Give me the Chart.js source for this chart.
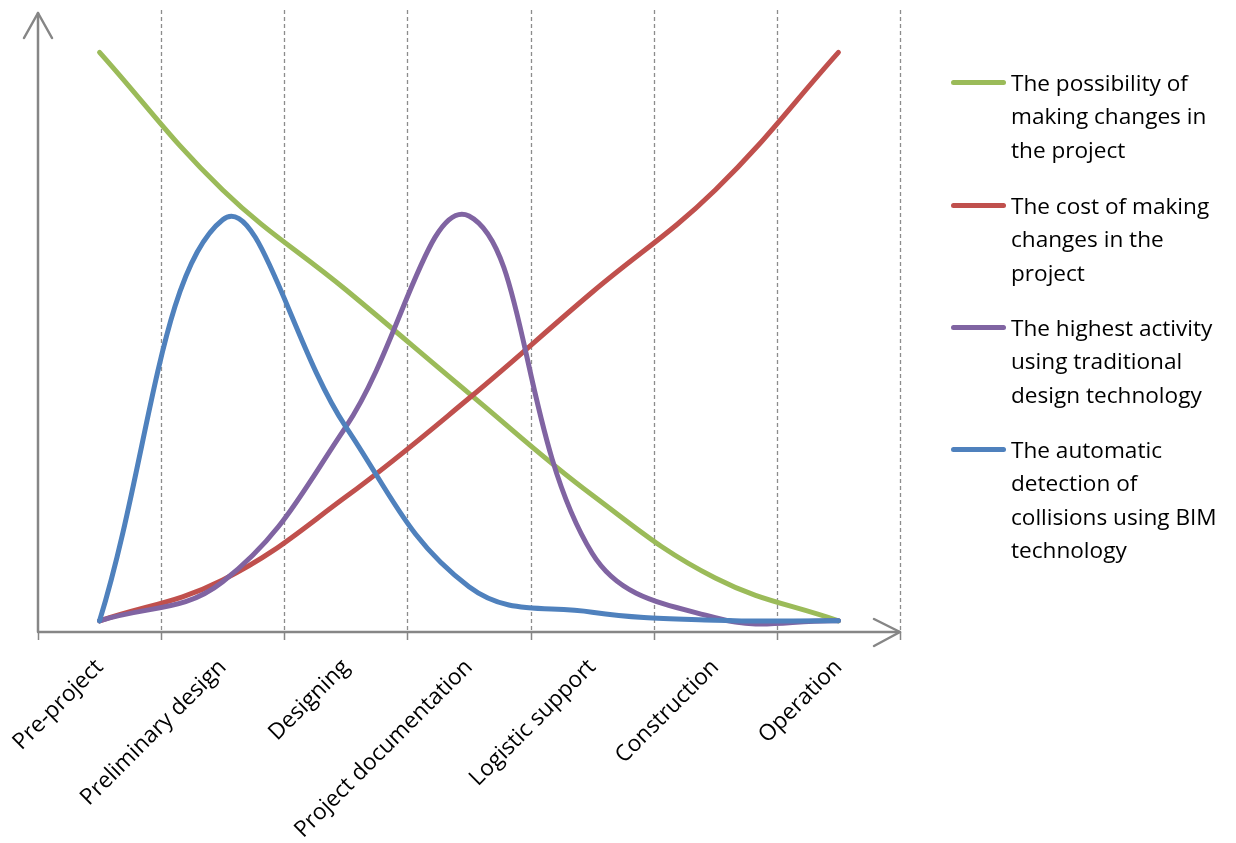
<!DOCTYPE html>
<html>
<head>
<meta charset="utf-8">
<script src="https://cdn.jsdelivr.net/npm/chart.js@4/dist/chart.umd.min.js"></script>
<style>
  html, body { margin: 0; padding: 0; background: #fff; }
  #wrap { position: relative; width: 1236px; height: 843px; }
  #chart { position: absolute; left: 0; top: 0; }
  .legend-item { position: absolute; left: 951px; display: flex; align-items: flex-start; }
  .legend-swatch { width: 55px; height: 5px; border-radius: 3px; margin-top: 14.2px; flex: none; }
  .legend-text { margin-left: 5px; font-family: "Open Sans", sans-serif; font-size: 22.6px; line-height: 33.3px; color: #000; white-space: nowrap; }
</style>
</head>
<body>
<div id="wrap">
  <canvas id="chart" width="1236" height="843"></canvas>
  <div id="legend"></div>
</div>
<script>
const categories = ['Pre-project', 'Preliminary design', 'Designing', 'Project documentation', 'Logistic support', 'Construction', 'Operation'];
const possibilityValues = [93.5, 71.3, 55.2, 38.5, 22.1, 8.7, 1.8];
const costValues = [1.8, 8.4, 21.8, 37.7, 54.8, 71.3, 93.5];
const traditionalValues = [1.8, 8.1, 33.1, 67.1, 12.7, 2.3, 1.8];
const bimValues = [1.8, 66.5, 33.1, 7.3, 3.2, 1.9, 1.8];
const seriesNames = [
  ['The possibility of', 'making changes in', 'the project'],
  ['The cost of making', 'changes in the', 'project'],
  ['The highest activity', 'using traditional', 'design technology'],
  ['The automatic', 'detection of', 'collisions using BIM', 'technology']
];
const seriesColors = ['#9BBB59', '#C0504D', '#8064A2', '#4F81BD'];
const legendTops = [66, 189, 311, 433];

const FONT = '"Open Sans", sans-serif';
const AXIS_COLOR = '#868686';

const axesPlugin = {
  id: 'axesPlugin',
  beforeDatasetsDraw(chart) {
    const ctx = chart.ctx;
    const area = chart.chartArea;
    const xs = chart.scales.x;
    const n = categories.length;
    const bottom = area.bottom;
    const bounds = [];
    for (let i = 0; i < n; i++) {
      bounds.push(i + 1 < n ? (xs.getPixelForValue(i) + xs.getPixelForValue(i + 1)) / 2 : area.right);
    }
    ctx.save();
    ctx.strokeStyle = '#8c8c8c';
    ctx.lineWidth = 1.3;
    ctx.setLineDash([4, 3]);
    bounds.forEach(b => {
      const gx = Math.round(b) + 0.5;
      ctx.beginPath();
      ctx.moveTo(gx, 10);
      ctx.lineTo(gx, bottom);
      ctx.stroke();
    });
    ctx.setLineDash([]);
    ctx.strokeStyle = AXIS_COLOR;
    ctx.lineWidth = 1.5;
    [area.left].concat(bounds).forEach(tx => {
      ctx.beginPath();
      ctx.moveTo(Math.round(tx) + 0.5, bottom);
      ctx.lineTo(Math.round(tx) + 0.5, bottom + 8);
      ctx.stroke();
    });
    ctx.lineWidth = 2.5;
    ctx.lineCap = 'round';
    ctx.lineJoin = 'round';
    ctx.beginPath();
    ctx.moveTo(area.left, bottom);
    ctx.lineTo(area.left, 13);
    ctx.moveTo(area.left, bottom);
    ctx.lineTo(area.right, bottom);
    ctx.stroke();
    ctx.beginPath();
    ctx.moveTo(area.left - 14, 38);
    ctx.lineTo(area.left, 13);
    ctx.lineTo(area.left + 14, 38);
    ctx.moveTo(area.right - 26, bottom - 13);
    ctx.lineTo(area.right, bottom);
    ctx.lineTo(area.right - 26, bottom + 14);
    ctx.stroke();
    ctx.restore();
  }
};

const valueSets = [possibilityValues, costValues, traditionalValues, bimValues];

new Chart(document.getElementById('chart'), {
  type: 'line',
  data: {
    labels: categories,
    datasets: valueSets.map((vals, i) => ({
      label: seriesNames[i].join(' '),
      data: vals,
      borderColor: seriesColors[i],
      backgroundColor: seriesColors[i],
      borderWidth: 5,
      borderCapStyle: 'round',
      borderJoinStyle: 'round',
      pointRadius: 0,
      pointHoverRadius: 0,
      tension: 0.4,
      fill: false,
      order: 4 - i
    }))
  },
  options: {
    responsive: false,
    animation: false,
    events: [],
    layout: { padding: { left: 38, right: 336, top: 12, bottom: 0 } },
    plugins: { legend: { display: false }, tooltip: { enabled: false } },
    scales: {
      x: {
        type: 'category',
        offset: true,
        grid: { display: false, drawTicks: false },
        border: { display: false },
        ticks: {
          autoSkip: false,
          minRotation: 45,
          maxRotation: 45,
          padding: 22,
          color: '#000',
          font: { family: FONT, size: 22.6 }
        },
        afterFit(scale) {
          scale.height = 211;
          scale.paddingLeft = 0;
          scale.paddingRight = 0;
        }
      },
      y: {
        display: false,
        min: 0,
        max: 100
      }
    }
  },
  plugins: [axesPlugin]
});

const legend = document.getElementById('legend');
seriesNames.forEach((lines, i) => {
  const item = document.createElement('div');
  item.className = 'legend-item';
  item.style.top = legendTops[i] + 'px';
  const sw = document.createElement('span');
  sw.className = 'legend-swatch';
  sw.style.background = seriesColors[i];
  const tx = document.createElement('div');
  tx.className = 'legend-text';
  tx.innerHTML = lines.join('<br>');
  item.appendChild(sw);
  item.appendChild(tx);
  legend.appendChild(item);
});
</script>
</body>
</html>
